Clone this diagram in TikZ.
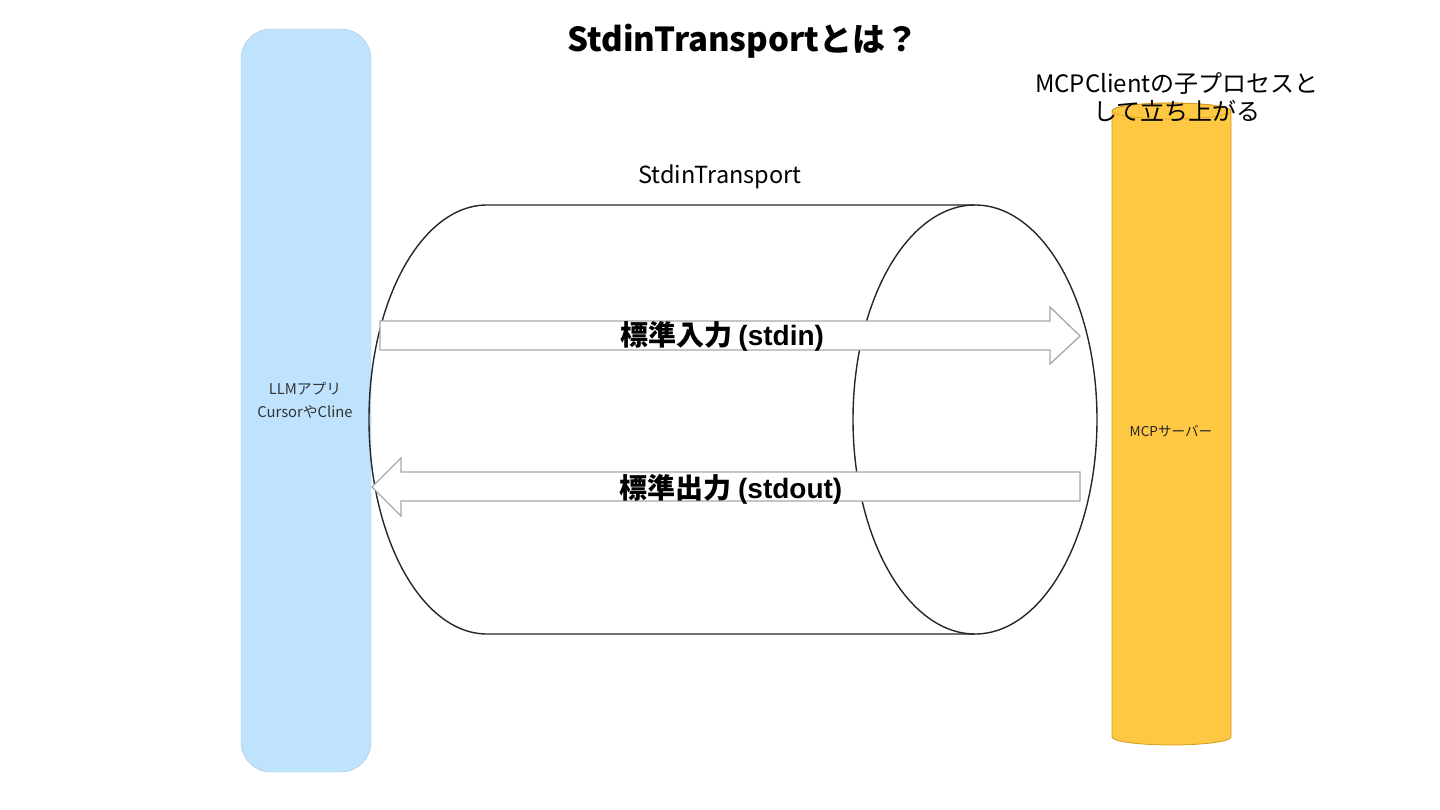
\documentclass[tikz,border=0pt]{standalone}
\usepackage{fontspec}
\setmainfont{Noto Sans CJK JP}
\newfontfamily\cjk{Noto Sans CJK JP}
\newfontfamily\lsans{Liberation Sans}
\definecolor{llmfill}{HTML}{BFE3FD}
\definecolor{llmdraw}{HTML}{9CC4E2}
\definecolor{srvfill}{HTML}{FEC842}
\definecolor{srvdraw}{HTML}{D49A1E}
\definecolor{arrdraw}{HTML}{A8A8A8}
\begin{document}
\begin{tikzpicture}[x=1pt,y=-1pt,
  blockarrow/.style={draw=arrdraw,fill=white,line width=1.3pt,line join=miter},
  cyl/.style={draw=black!85,line width=1.4pt},
  lbl/.style={inner sep=0pt,align=center}]
\useasboundingbox (0,0) rectangle (1440,810);
% LLM app
\node[draw=llmdraw,fill=llmfill,rounded corners=30pt,minimum width=130pt,minimum height=743pt,line width=0.4pt] (llm) at (306,400.5) {};
\node[lbl,font=\fontsize{14.8}{23}\selectfont,text=black!80] (llmt) at (305,400.5) {LLMアプリ\\CursorやCline};
% MCP server cylinder
\fill[srvfill,draw=srvdraw,line width=0.8pt] (1112,111) -- (1112,737) arc[start angle=-180,end angle=-360,x radius=59.5,y radius=8] -- (1231,111) arc[start angle=0,end angle=-180,x radius=59.5,y radius=8] -- cycle;
\draw[srvdraw,line width=0.6pt] (1171.5,111) ellipse[x radius=59.5,y radius=8];
\node[lbl,font=\fontsize{13.6}{16}\selectfont,text=black!85] (srv) at (1171,431) {MCPサーバー};
% transport cylinder
\draw[cyl] (975,205) -- (487,205) arc[start angle=-90,end angle=-270,x radius=118,y radius=214.5] -- (975,634);
\draw[cyl] (975,419.5) ellipse[x radius=122,y radius=214.5];
\node[lbl,font=\fontsize{23.5}{28}\selectfont] (tlabel) at (720,177) {StdinTransport};
% arrows
\coordinate (inTip) at (1080,336);
\coordinate (outTip) at (372,487);
\draw[blockarrow] (380,321) -- (1050,321) -- (1050,307) -- (inTip) -- (1050,364) -- (1050,350) -- (380,350) -- cycle;
\draw[blockarrow] (1080,472) -- (401,472) -- (401,458) -- (outTip) -- (401,516) -- (401,501) -- (1080,501) -- cycle;
\node[lbl,font=\fontsize{28}{32}\selectfont\bfseries] (stdin) at (722,336) {{\cjk\bfseries 標準入力} {\lsans\bfseries (stdin)}};
\node[lbl,font=\fontsize{28}{32}\selectfont\bfseries] (stdout) at (731,489) {{\cjk\bfseries 標準出力} {\lsans\bfseries (stdout)}};
% titles
\node[lbl,font=\fontsize{33}{38}\selectfont\bfseries] (title) at (743,41) {StdinTransportとは？};
\node[lbl,font=\fontsize{24}{28}\selectfont] (note) at (1177,97) {MCPClientの子プロセスと\\して立ち上がる};
\end{tikzpicture}
\end{document}
